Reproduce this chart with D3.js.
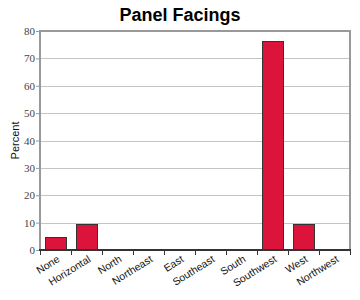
<!DOCTYPE html>
<html>
<head>
<meta charset="utf-8">
<script src="https://cdn.jsdelivr.net/npm/d3@7"></script>
<style>
  body { margin: 0; background: #fff; }
</style>
</head>
<body>
<div id="chart"></div>
<script>
// chart data
const categories = ["None", "Horizontal", "North", "Northeast", "East", "Southeast", "South", "Southwest", "West", "Northwest"];
const percents = [4.8, 9.6, 0, 0, 0, 0, 0, 76.2, 9.6, 0];
const yTicks = [0, 10, 20, 30, 40, 50, 60, 70, 80];

const width = 360, height = 300;
const margin = { top: 31, right: 10, bottom: 50, left: 40 };
const innerW = width - margin.left - margin.right;
const innerH = height - margin.top - margin.bottom;

const svg = d3.select("#chart").append("svg")
    .attr("width", width)
    .attr("height", height);

// title
svg.append("text")
    .attr("x", width / 2)
    .attr("y", 21)
    .attr("text-anchor", "middle")
    .style("font-family", "Liberation Sans, Arial, sans-serif")
    .style("font-weight", "bold")
    .style("font-size", "18px")
    .text("Panel Facings");

const g = svg.append("g").attr("transform", `translate(${margin.left},${margin.top})`);

const x = d3.scaleBand().domain(categories).range([0, innerW]).paddingInner(0.33).paddingOuter(0.165);
const xTicks = d3.scaleBand().domain(categories).range([0, innerW]);
const y = d3.scaleLinear().domain([0, 80]).range([innerH, 0]);

// gridlines
g.append("g")
    .selectAll("line")
    .data(yTicks.filter(d => d > 0 && d < 80))
    .join("line")
    .attr("x1", 0).attr("x2", innerW)
    .attr("y1", d => Math.round(y(d)) + 0.5).attr("y2", d => Math.round(y(d)) + 0.5)
    .attr("stroke", "#c4c4c4");

// frame (left, top, right)
g.append("path")
    .attr("d", `M0,${innerH}V0H${innerW}V${innerH}`)
    .attr("fill", "none")
    .attr("stroke", "#999")
    .attr("stroke-width", 2);

// bars
g.append("g")
    .selectAll("rect")
    .data(categories.map((c, i) => ({ c, v: percents[i] })).filter(d => d.v > 0))
    .join("rect")
    .attr("x", d => Math.round(x(d.c)) + 0.5)
    .attr("y", d => Math.round(y(d.v)) + 0.5)
    .attr("width", Math.round(x.bandwidth()))
    .attr("height", d => innerH - Math.round(y(d.v)))
    .attr("fill", "#DC143C")
    .attr("stroke", "#333")
    .attr("stroke-width", 1);

// y axis
const yAxis = g.append("g")
    .call(d3.axisLeft(y).tickValues(yTicks).tickSize(4).tickSizeOuter(0));
yAxis.select(".domain").remove();
yAxis.selectAll(".tick line").attr("stroke", "#999");
yAxis.selectAll(".tick text")
    .attr("x", -5)
    .style("font-family", "Liberation Serif, Times New Roman, serif")
    .style("font-size", "11px")
    .attr("fill", "#444");

// x axis
const xAxis = g.append("g").attr("transform", `translate(0,${innerH})`);
xAxis.append("line")
    .attr("x1", -1).attr("x2", innerW + 1)
    .attr("stroke", "#333").attr("stroke-width", 2);
xAxis.selectAll(".xtick")
    .data(d3.range(categories.length + 1))
    .join("line")
    .attr("x1", i => Math.round(i * xTicks.step()) + 0.5)
    .attr("x2", i => Math.round(i * xTicks.step()) + 0.5)
    .attr("y1", 0).attr("y2", 5)
    .attr("stroke", "#333");
xAxis.selectAll(".xlabel")
    .data(categories)
    .join("text")
    .attr("text-anchor", "end")
    .attr("transform", d => `translate(${xTicks(d) + xTicks.bandwidth() / 2 + 5},${11}) rotate(-32)`)
    .style("font-family", "Liberation Sans, Arial, sans-serif")
    .style("font-size", "10.5px")
    .attr("fill", "#111")
    .text(d => d);

// y label
svg.append("text")
    .attr("transform", `translate(19,${margin.top + innerH / 2}) rotate(-90)`)
    .attr("text-anchor", "middle")
    .style("font-family", "Liberation Sans, Arial, sans-serif")
    .style("font-size", "11px")
    .attr("fill", "#111")
    .text("Percent");
</script>
</body>
</html>
